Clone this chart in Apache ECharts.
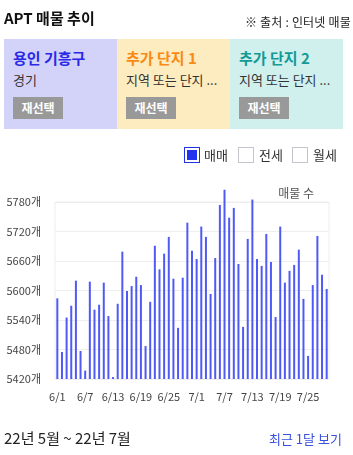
<!DOCTYPE html>
<html><head><meta charset="utf-8">
<script src="https://cdn.jsdelivr.net/npm/echarts@6/dist/echarts.min.js"></script>
<style>
html,body{margin:0;padding:0;width:353px;height:455px;overflow:hidden;background:#fff;font-family:"Noto Sans CJK KR","Noto Sans",sans-serif;}
#chart{position:absolute;left:0;top:0;width:353px;height:455px;}
.abs{position:absolute;white-space:nowrap;}
.panel{position:absolute;top:39px;height:90px;width:113px;}
.ptitle{position:absolute;left:9px;top:10px;font-size:15px;font-weight:bold;line-height:18px;}
.psub{position:absolute;left:9px;top:33px;font-size:13px;color:#333;line-height:16px;}
.btn{position:absolute;left:9px;top:58px;width:50px;height:22px;background:#999;color:#fff;font-size:12px;font-weight:bold;line-height:22px;text-align:center;}
.cb{position:absolute;top:147px;width:14px;height:14px;border:1px solid #c4c4cc;background:#fff;}
.lt{position:absolute;top:146px;font-size:13px;color:#333;line-height:17px;}
</style></head>
<body>
<div id="chart"></div>
<div class="abs" style="left:4px;top:8px;font-size:15px;font-weight:bold;color:#111;line-height:20px;">APT 매물 추이</div>
<div class="abs" style="left:245px;top:13px;font-size:12px;color:#222;line-height:17px;letter-spacing:0.2px;">※ 출처 : 인터넷 매물</div>
<div class="panel" style="left:4px;background:#d3d3fa;">
  <div class="ptitle" style="color:#2a2ae6;">용인 기흥구</div>
  <div class="psub">경기</div>
  <div class="btn">재선택</div>
</div>
<div class="panel" style="left:117px;background:#fdecc0;">
  <div class="ptitle" style="color:#f88a16;">추가 단지 1</div>
  <div class="psub">지역 또는 단지 ...</div>
  <div class="btn">재선택</div>
</div>
<div class="panel" style="left:230px;background:#d0f0ee;">
  <div class="ptitle" style="color:#149a96;">추가 단지 2</div>
  <div class="psub">지역 또는 단지 ...</div>
  <div class="btn">재선택</div>
</div>
<div class="cb" style="left:184px;border:1px solid #2233ee;width:14px;height:14px;"><div style="position:absolute;left:2px;top:2px;width:10px;height:10px;background:#2233ee;"></div></div>
<div class="lt" style="left:204px;">매매</div>
<div class="cb" style="left:238px;"></div>
<div class="lt" style="left:259px;">전세</div>
<div class="cb" style="left:292px;"></div>
<div class="lt" style="left:313px;">월세</div>
<div class="abs" style="left:4px;top:428px;font-size:15px;color:#222;line-height:19px;">22년 5월 ~ 22년 7월</div>
<div class="abs" style="left:269px;top:430px;font-size:13px;color:#3a50e0;line-height:17px;">최근 1달 보기</div>
<script>
// Data
const dates = [
  '6/1','6/2','6/3','6/4','6/5','6/6','6/7','6/8','6/9','6/10',
  '6/11','6/12','6/13','6/14','6/15','6/16','6/17','6/18','6/19','6/20',
  '6/21','6/22','6/23','6/24','6/25','6/26','6/27','6/28','6/29','6/30',
  '7/1','7/2','7/3','7/4','7/5','7/6','7/7','7/8','7/9','7/10',
  '7/11','7/12','7/13','7/14','7/15','7/16','7/17','7/18','7/19','7/20',
  '7/21','7/22','7/23','7/24','7/25','7/26','7/27','7/28','7/29'
];
const listings = [
  5584,5475,5545,5569,5620,5477,5437,5618,5561,5571,
  5616,5548,5424,5573,5679,5599,5609,5628,5611,5487,
  5577,5691,5643,5675,5709,5624,5524,5626,5738,5681,
  5664,5730,5709,5593,5666,5774,5805,5748,5768,5654,
  5526,5705,5785,5664,5650,5715,5658,5546,5730,5616,
  5640,5652,5683,5583,5467,5611,5711,5632,5603
];
const yMin = 5420, yMax = 5780, yStep = 60;
const yUnit = '개';
const yName = '매물 수';

const chart = echarts.init(document.getElementById('chart'), null, {renderer:'canvas'});
chart.setOption({
  animation:false,
  grid:{left:55,right:24,top:202,bottom:76,show:true,borderColor:'#eeeeee',borderWidth:1},
  graphic:[{type:'text',right:39,top:187,style:{text:yName,fill:'#555',font:'12px "Noto Sans CJK KR"'}}],
  xAxis:{type:'category',data:dates,
    axisLine:{show:false},axisTick:{show:false},
    axisLabel:{interval:5,color:'#444',fontSize:11,margin:12,fontFamily:'"Noto Sans CJK KR"'}},
  yAxis:{type:'value',min:yMin,max:yMax,interval:yStep,
    axisLine:{show:false},axisTick:{show:false},
    splitLine:{lineStyle:{color:'#eeeeee'}},
    axisLabel:{color:'#444',fontSize:11,margin:14,fontFamily:'"Noto Sans CJK KR"',formatter:v=>v+yUnit}},
  series:[
    {type:'bar',stack:'s',data:listings.map(()=>yMin),itemStyle:{color:'rgba(0,0,0,0)'},barWidth:2,clip:false,silent:true},
    {type:'bar',stack:'s',data:listings.map(v=>v-yMin),itemStyle:{color:'#4f5af5'},barWidth:2,clip:false}
  ]
});
</script>
</body></html>
